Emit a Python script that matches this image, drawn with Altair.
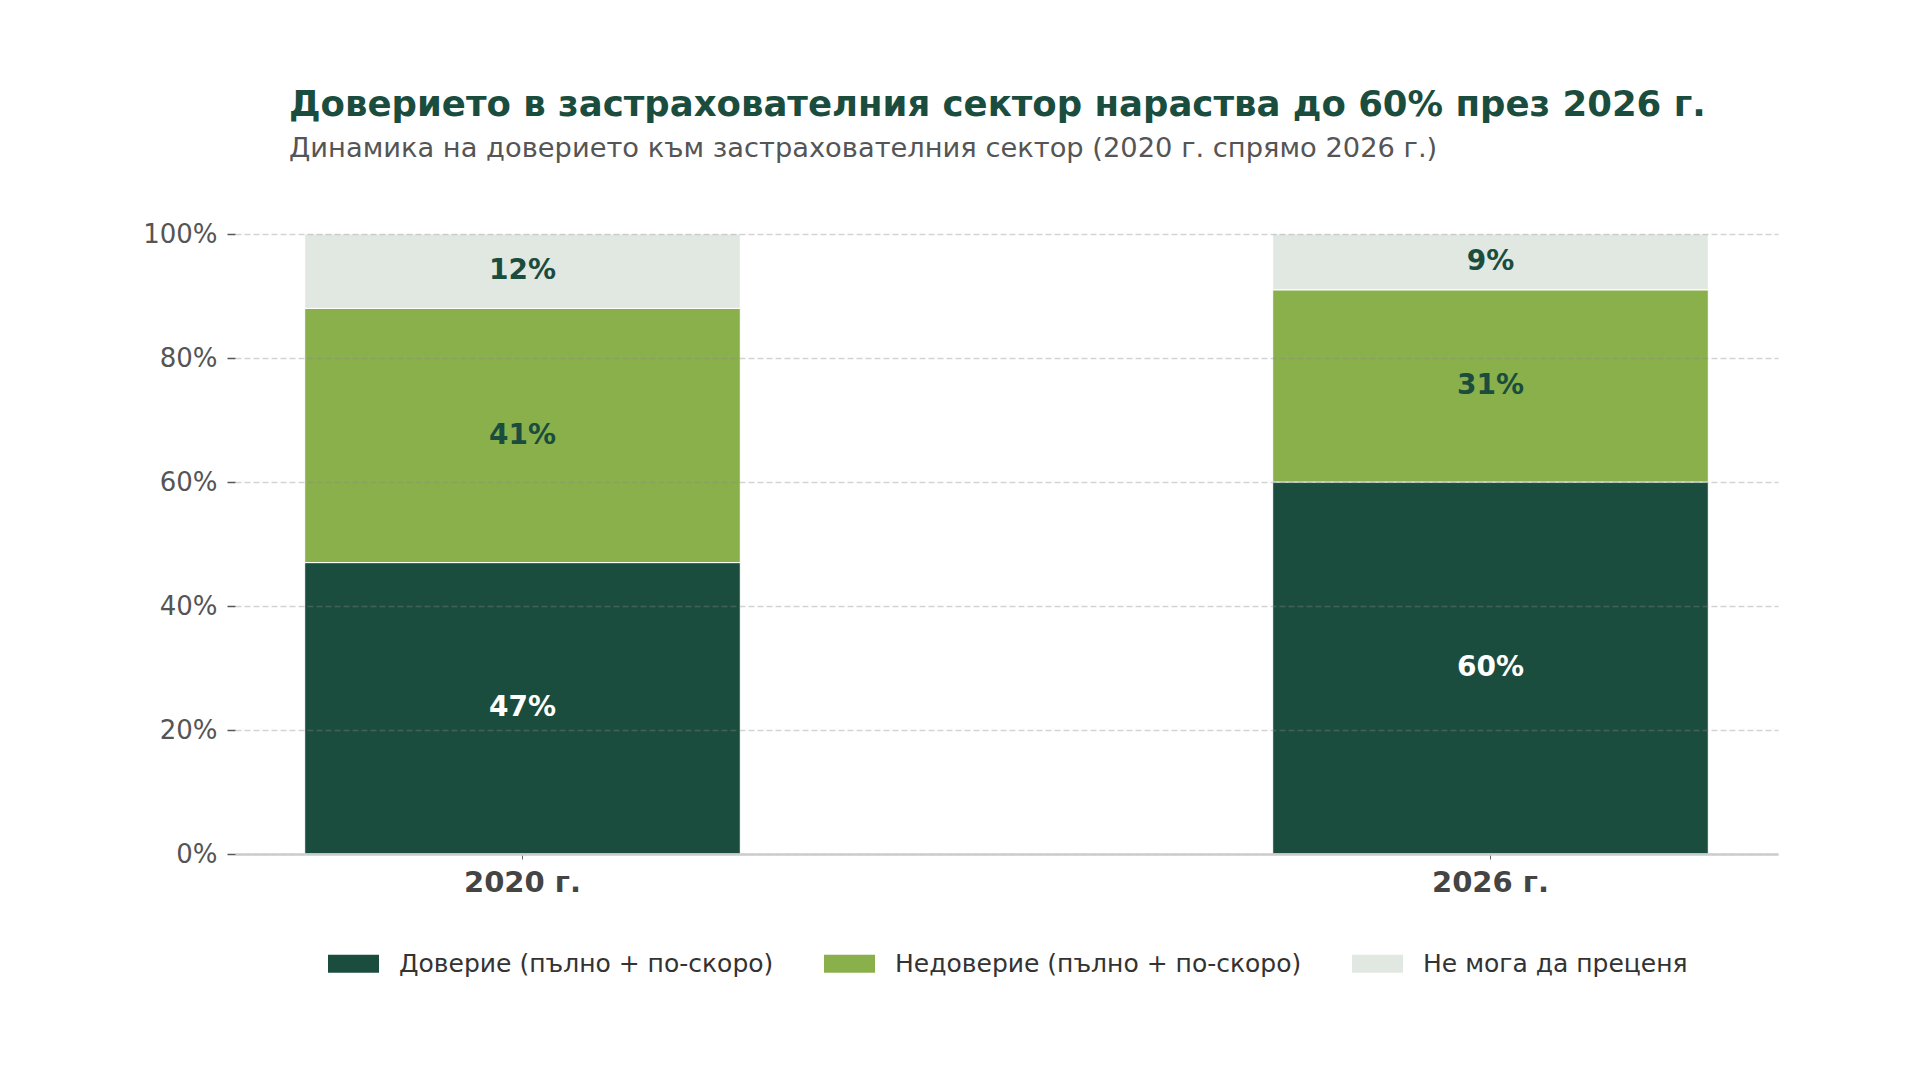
import altair as alt
import pandas as pd

years = ["2020 г.", "2026 г."]
categories = ["Доверие (пълно + по-скоро)", "Недоверие (пълно + по-скоро)", "Не мога да преценя"]
trust = [47, 60]
distrust = [41, 31]
unsure = [12, 9]
colors = ["#1b4d3e", "#8ab04b", "#e0e8e1"]
label_colors = ["#ffffff", "#1b4d3e", "#1b4d3e"]
y_ticks = [0, 20, 40, 60, 80, 100]

rows = []
for i, yr in enumerate(years):
    for k, (cat, series) in enumerate(zip(categories, [trust, distrust, unsure])):
        rows.append({"year": yr, "cat": cat, "value": series[i], "ord": k, "lc": label_colors[k]})
df = pd.DataFrame(rows)

FONT = "DejaVu Sans"

base = alt.Chart(df).transform_stack(
    stack="value", groupby=["year"], as_=["v0", "v1"],
    sort=[alt.SortField("ord", order="ascending")]
).transform_calculate(
    mid="(datum.v0 + datum.v1) / 2",
    label="datum.value + '%'"
)

xenc = alt.X(
    "year:N", sort=years, title=None,
    scale=alt.Scale(paddingInner=0.55, paddingOuter=0.072),
    axis=alt.Axis(labelAngle=0, labelFont=FONT, labelFontSize=29, labelFontWeight="bold",
                  labelColor="#444444", labelPadding=9, tickSize=5, tickColor="#666666",
                  tickWidth=1, domainColor="#cccccc", domainWidth=2.5, grid=False, zindex=1)
)

bars = base.mark_bar(stroke="white", strokeWidth=1).encode(
    x=xenc,
    y=alt.Y("v0:Q", title=None,
            scale=alt.Scale(domain=[0, 100], nice=False),
            axis=alt.Axis(values=y_ticks, labelExpr="datum.value + '%'", labelFont=FONT,
                          labelFontSize=26, labelColor="#555555", labelPadding=10,
                          tickSize=8, tickColor="#555555", tickWidth=1.5, domain=False,
                          grid=True, gridColor="#888888", gridOpacity=0.36, gridDash=[6, 3],
                          gridWidth=1.4, zindex=1)),
    y2="v1:Q",
    color=alt.Color("cat:N", scale=alt.Scale(domain=categories, range=colors), title=None,
                    legend=alt.Legend(orient="none", direction="horizontal",
                                      legendX=93, legendY=704,
                                      symbolType="M-1,-0.353L1,-0.353L1,0.353L-1,0.353Z",
                                      symbolSize=2601, symbolStrokeWidth=0, symbolOpacity=1,
                                      labelFont=FONT, labelFontSize=25, labelColor="#333333",
                                      labelOffset=20, columnPadding=50,
                                      labelLimit=1000)),
    order=alt.Order("ord:Q")
)

texts = base.mark_text(font=FONT, fontSize=28, fontWeight="bold", baseline="middle").encode(
    x=alt.X("year:N", sort=years),
    y="mid:Q",
    text="label:N",
    color=alt.Color("lc:N", scale=None)
)

chart = alt.layer(bars, texts).properties(
    width=1543, height=620,
    background="white",
    autosize=alt.AutoSizeParams(type="none"),
    padding={"left": 227, "top": 226, "right": 134, "bottom": 210},
    title=alt.TitleParams(
        text="Доверието в застрахователния сектор нараства до 60% през 2026 г.",
        subtitle="Динамика на доверието към застрахователния сектор (2020 г. спрямо 2026 г.)",
        anchor="start", frame="group", dx=54, offset=58.3,
        font=FONT, fontSize=35.5, fontWeight="bold", color="#1b4d3e",
        subtitleFont=FONT, subtitleFontSize=27.3, subtitleColor="#555555",
        subtitlePadding=11.5
    )
).configure_view(stroke="transparent", strokeWidth=0)

chart.save("out.html", embed_options={"renderer": "svg", "actions": False})
